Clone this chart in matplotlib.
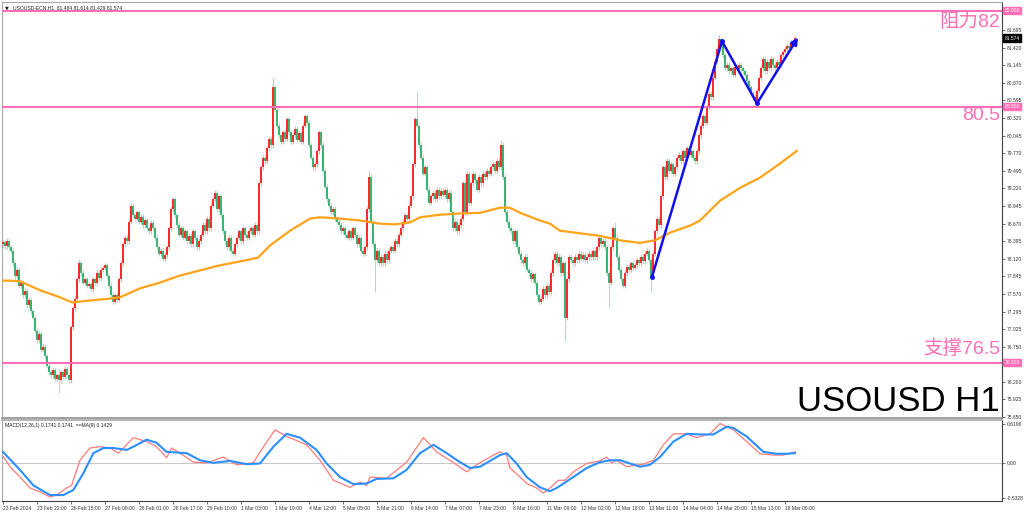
import matplotlib
matplotlib.use('agg')
import matplotlib.pyplot as plt
import numpy as np

# ---- data (H1 bars, one per index) ----
first_open = 78.35
closes = [
    78.38, 78.32, 78.40, 78.30, 78.25,
    78.05, 77.85, 77.95, 77.70,
    77.75, 77.55, 77.62, 77.40, 77.48, 77.30, 77.20,
    77.00, 76.85, 76.95, 76.70, 76.75, 76.60,
    76.45, 76.35, 76.30, 76.38, 76.25, 76.30, 76.22,
    76.35, 76.28, 76.40, 76.30, 76.22,
    77.05, 77.35, 77.50,
    77.80, 78.05, 77.90,
    77.75, 77.80, 77.70, 77.72, 77.65, 77.80, 77.75, 77.90, 77.82, 77.95, 77.98,
    78.02, 77.85, 77.70, 77.55, 77.45, 77.55, 77.48,
    77.80, 78.05, 78.35, 78.45, 78.40, 78.70, 78.95,
    78.80, 78.75, 78.85, 78.70, 78.78, 78.65, 78.72, 78.60, 78.55, 78.68, 78.60, 78.45, 78.30,
    78.20, 78.25, 78.12, 78.18, 78.30, 78.60,
    78.90, 79.05, 78.80,
    78.65, 78.50, 78.60, 78.45, 78.55,
    78.40, 78.48, 78.35, 78.55, 78.45, 78.30, 78.40, 78.50, 78.65, 78.55,
    78.75, 78.60, 78.95, 79.05, 79.15,
    78.90, 79.10, 78.80, 78.55,
    78.40, 78.30, 78.45, 78.25, 78.20, 78.35,
    78.45, 78.55, 78.40, 78.60, 78.50,
    78.45, 78.55, 78.60, 78.50, 78.65, 78.55,
    79.30, 79.55, 79.70,
    79.65, 79.85, 80.00, 79.90,
    80.80,
    80.45, 80.20, 80.05, 79.95, 80.10,
    80.00, 80.30, 80.10, 79.95,
    80.05, 80.15, 79.98, 80.08, 79.95,
    80.20, 80.35, 80.25, 79.90,
    79.70, 79.55, 79.60,
    79.80, 80.10, 79.90,
    79.50, 79.25, 79.05,
    78.95, 78.85, 78.90, 78.75, 78.70,
    78.65, 78.55, 78.60, 78.50, 78.45, 78.55,
    78.45, 78.60, 78.50, 78.35, 78.45,
    78.25, 78.20, 78.30,
    78.90, 79.40,
    78.70, 78.35, 78.10, 78.25, 78.05,
    78.15, 78.05, 78.20, 78.10, 78.25,
    78.30, 78.25, 78.40, 78.35, 78.50, 78.60,
    78.70, 78.80, 78.75, 78.95, 79.10,
    79.60, 80.30, 80.20,
    79.90, 79.70, 79.45, 79.55,
    79.20, 79.00, 79.10,
    79.15, 79.05, 79.20, 79.10, 79.18, 79.12, 79.20, 79.05, 79.15,
    78.85, 78.60, 78.70,
    78.55, 78.65, 78.75,
    79.30, 78.85, 79.45, 79.00,
    79.30, 79.45, 79.35, 79.20, 79.40,
    79.30, 79.45, 79.40, 79.50, 79.45, 79.55, 79.60, 79.50, 79.65, 79.55,
    79.90, 79.40,
    78.85, 78.70, 78.60, 78.55,
    78.40, 78.55, 78.30, 78.20,
    78.10, 78.05, 78.15, 77.95, 77.90, 77.80, 77.88, 77.75,
    77.55, 77.45, 77.50,
    77.65, 77.55, 77.70, 77.60,
    77.90, 78.10, 78.20, 78.05,
    78.15, 77.90, 78.05,
    77.20,
    77.80, 78.15,
    78.10, 78.05, 78.15, 78.10, 78.20, 78.12, 78.18, 78.10, 78.15,
    78.20, 78.15, 78.25, 78.15, 78.30,
    78.45, 78.35, 78.40, 78.30,
    77.90, 77.75,
    78.30, 78.60, 78.45,
    78.15, 77.95, 77.80, 77.70, 77.90,
    78.00, 77.95, 78.05, 77.98, 78.02, 78.10,
    78.05, 78.15, 78.08,
    78.20, 78.25, 78.10, 77.85,
    78.20, 78.55, 78.75, 78.65,
    79.10, 79.55, 79.40, 79.65,
    79.50, 79.60, 79.45, 79.55, 79.70,
    79.75, 79.65, 79.80, 79.70, 79.85,
    79.75, 79.80, 79.70, 79.65, 79.80,
    80.05, 80.20, 80.35,
    80.25, 80.50, 80.70,
    80.65, 80.95, 81.20,
    81.40, 81.55, 81.50,
    81.30, 81.10, 81.15,
    81.05, 81.10, 81.00, 81.12, 81.08, 81.15, 81.10, 81.05, 81.00,
    80.90, 80.80, 80.70,
    80.65, 80.60, 80.75,
    80.95, 81.10, 81.25,
    81.05, 81.20, 81.10, 81.25, 81.15,
    81.10, 81.20, 81.15, 81.30,
    81.35, 81.40, 81.45, 81.42, 81.50, 81.48, 81.57,
]
# notable wick extremes
spike_highs = {28: 76.40, 38: 78.10, 135: 80.95, 183: 79.50, 207: 80.75,
               249: 79.97, 306: 78.70, 358: 81.62}
spike_lows = {28: 76.03, 186: 77.60, 281: 76.84, 303: 77.36, 324: 77.60, 376: 80.52}

# orange moving average
ma_bars = [0, 3.5, 8.5, 18.5, 28.5, 34.5, 43.5, 53.5, 58.5, 68.5, 78.5, 88.5, 98.5,
           108.5, 118.5, 127.5, 133.5, 143.5, 153.5, 158.5, 168.5, 178.5, 188.5, 196,
           203.5, 208.5, 218.5, 228.5, 238.5, 248.5, 253.5, 258.5, 268.5, 273.5, 278.5,
           288.5, 298.5, 308.5, 318.5, 326, 333.5, 343.5, 348.5, 358.5, 368.5, 378.5,
           388.5, 397]
ma_vals = [77.78, 77.78, 77.77, 77.63, 77.52, 77.44, 77.47, 77.50, 77.52, 77.66, 77.75,
           77.86, 77.94, 78.02, 78.08, 78.14, 78.33, 78.56, 78.75, 78.77, 78.75, 78.72,
           78.67, 78.66, 78.69, 78.77, 78.81, 78.83, 78.84, 78.92, 78.92, 78.84, 78.72,
           78.67, 78.56, 78.52, 78.48, 78.41, 78.37, 78.41, 78.53, 78.64, 78.72, 79.03,
           79.23, 79.39, 79.61, 79.81]

# blue trend arrows (bar, price)
trend_bars = [324.5, 359.5, 377, 397.5]
trend_vals = [77.84, 81.52, 80.55, 81.58]

# MACD main (red) and signal (blue)
macd_bars = [0, 3.5, 8.5, 13.5, 18.5, 23.5, 26.8, 31.8, 34.3, 38.5, 43.5, 48.5, 53.5,
             57.7, 65.2, 71.8, 76.8, 81.8, 84.3, 88.5, 95.2, 101.8, 110.2, 116.8, 125.2,
             130.2, 136, 141.8, 151.8, 158.5, 165.2, 173.5, 178.5, 181.8, 183.5, 191.8,
             201.8, 210.2, 216.8, 226.8, 231.8, 236.8, 245.2, 248.5, 251.8, 253.5, 258.5,
             261.8, 266.8, 270.2, 273.5, 277.7, 281, 285.2, 291.8, 298.5, 301.8, 304.3,
             306.8, 311.8, 320.2, 325.2, 330.2, 335.2, 341.8, 346.8, 353.5, 358.5, 365.2,
             371.8, 378.5, 385.2, 390.2, 396]
macd_vals = [0.11, -0.05, -0.21, -0.38, -0.44, -0.52, -0.49, -0.38, -0.34, 0.05, 0.24,
             0.26, 0.24, 0.16, 0.40, 0.34, 0.26, 0.09, 0.24, 0.16, 0.02, 0.01, 0.10, -0.02,
             0.01, 0.26, 0.52, 0.42, 0.29, 0.05, -0.26, -0.37, -0.29, -0.34, -0.21, -0.23,
             0.02, 0.40, 0.18, -0.02, -0.13, -0.02, 0.13, 0.18, 0.13, -0.07, -0.21, -0.31,
             -0.38, -0.46, -0.38, -0.26, -0.26, -0.13, 0.00, 0.04, 0.10, 0.01, 0.05, -0.05,
             -0.01, 0.05, 0.29, 0.46, 0.46, 0.40, 0.46, 0.62, 0.52, 0.34, 0.15, 0.13, 0.13,
             0.18]
sig_bars = [0, 8.5, 15.2, 23.5, 30.2, 35.2, 40.2, 45.2, 50.2, 55.2, 61.8, 65.2, 71.8,
            76.8, 81.8, 91.8, 98.5, 105.2, 113.5, 121.8, 128.5, 135.2, 141.8, 148.5,
            156.8, 161.8, 168.5, 175.2, 181.8, 186.8, 195.2, 201.8, 208.5, 215.2, 221.8,
            228.5, 233.5, 238.5, 245.2, 248.5, 251.8, 256.8, 261.8, 268.5, 273.5, 276.8,
            285.2, 291.8, 298.5, 303.5, 308.5, 318.5, 323.5, 328.5, 335.2, 341.8, 348.5,
            355.2, 361.8, 365.2, 371.8, 380.2, 386.8, 391.8, 396]
sig_vals = [0.18, -0.10, -0.34, -0.49, -0.49, -0.41, -0.15, 0.16, 0.24, 0.24, 0.21, 0.26,
            0.37, 0.32, 0.18, 0.16, 0.05, 0.01, 0.04, -0.01, 0.00, 0.26, 0.46, 0.40, 0.21,
            0.00, -0.21, -0.32, -0.31, -0.24, -0.23, -0.10, 0.16, 0.29, 0.16, 0.02, -0.07,
            -0.05, 0.07, 0.13, 0.16, 0.00, -0.21, -0.37, -0.43, -0.38, -0.21, -0.07, 0.02,
            0.05, 0.05, -0.05, -0.02, 0.10, 0.34, 0.46, 0.45, 0.45, 0.57, 0.55, 0.42, 0.18,
            0.15, 0.15, 0.16]

price_ticks = [81.695, 81.420, 81.145, 80.870, 80.595, 80.320, 80.045, 79.770, 79.495,
               79.220, 78.945, 78.670, 78.395, 78.120, 77.845, 77.570, 77.295, 77.025,
               76.750, 76.200, 75.925, 75.650]
level_lines = [82.0, 80.5, 76.5]
time_labels = ['23 Feb 2024', '23 Feb 22:00', '26 Feb 15:00', '27 Feb 08:00',
               '28 Feb 01:00', '28 Feb 17:00', '29 Feb 10:00', '1 Mar 03:00',
               '1 Mar 19:00', '4 Mar 12:00', '5 Mar 05:00', '5 Mar 21:00',
               '6 Mar 14:00', '7 Mar 07:00', '7 Mar 23:00', '8 Mar 16:00',
               '11 Mar 09:00', '12 Mar 02:00', '12 Mar 18:00', '13 Mar 11:00',
               '14 Mar 04:00', '14 Mar 20:00', '15 Mar 13:00', '18 Mar 06:00']
bars_per_label = 17

# ---- figure ----
W, H = 1024, 514
fig = plt.figure(figsize=(W / 100, H / 100), dpi=100)
fig.patch.set_facecolor('white')
small = dict(family='Liberation Sans', size=3.6)

def px_box(x0, y0, x1, y1):
    return [x0 / W, 1 - y1 / H, (x1 - x0) / W, (y1 - y0) / H]

ax = fig.add_axes(px_box(2, 2, 1002, 418))
mx = fig.add_axes(px_box(2, 420, 1002, 500.5), sharex=ax)

pink = '#ff6fb5'
up_col, dn_col = '#ff2a2a', '#3bb372'
up_wick, dn_wick = '#ff9999', '#9dd9b3'

closes_a = np.array(closes)
opens_a = np.concatenate([[first_open], closes_a[:-1]])
idx = np.arange(len(closes_a))
hi = np.maximum(opens_a, closes_a) + 0.04
lo = np.minimum(opens_a, closes_a) - 0.04
for k, v in spike_highs.items():
    hi[k] = v
for k, v in spike_lows.items():
    lo[k] = v
up = closes_a >= opens_a

ax.vlines(idx[up], lo[up], hi[up], color=up_wick, lw=0.6, zorder=2)
ax.vlines(idx[~up], lo[~up], hi[~up], color=dn_wick, lw=0.6, zorder=2)
body_h = np.maximum(np.abs(closes_a - opens_a), 0.012)
body_b = np.minimum(opens_a, closes_a)
ax.bar(idx[up], body_h[up], bottom=body_b[up], width=0.75, color=up_col, lw=0, zorder=3)
ax.bar(idx[~up], body_h[~up], bottom=body_b[~up], width=0.75, color=dn_col, lw=0, zorder=3)

ax.plot(ma_bars, ma_vals, color='#ffa31a', lw=1.6, zorder=4, solid_capstyle='round')

for lv in level_lines:
    ax.axhline(lv, color=pink, lw=1.5, zorder=5)

ax.plot(trend_bars[:-1], trend_vals[:-1], color='#1010ee', lw=1.8, zorder=6)
ax.plot(trend_bars[:-1], trend_vals[:-1], 'o', color='#1010ee', ms=2.5, zorder=6)
ax.annotate('', xy=(trend_bars[-1], trend_vals[-1]), xytext=(trend_bars[-2], trend_vals[-2]),
            arrowprops=dict(arrowstyle='-|>', color='#1010ee', lw=1.8,
                            mutation_scale=10, shrinkA=0, shrinkB=0), zorder=6)

ax.set_xlim(-0.5, 499.5)
ax.set_ylim(75.634, 82.134)

# right price scale
ax.yaxis.tick_right()
ax.set_yticks(price_ticks)
ax.set_yticklabels(['%.3f' % v for v in price_ticks], **small)
ax.tick_params(axis='y', direction='out', length=2, width=0.5, pad=1.5,
               colors='#333333')
ax.tick_params(axis='x', bottom=False, labelbottom=False)
for s in ['left', 'top']:
    ax.spines[s].set_color('#a8a8a8')
ax.spines['right'].set_color('#404040')
ax.spines['right'].set_linewidth(0.8)
ax.spines['bottom'].set_color('#909090')
ax.spines['bottom'].set_linewidth(1.2)

ytr = ax.get_yaxis_transform()
for lv in level_lines:
    ax.text(1.0025, lv, '%.3f' % lv, transform=ytr, color='white',
            va='center', ha='left', zorder=8, **small,
            bbox=dict(boxstyle='square,pad=0.25', fc=pink, ec=pink))
ax.text(1.0025, closes[-1], '81.574', transform=ytr, color='white',
        va='center', ha='left', zorder=8, **small,
        bbox=dict(boxstyle='square,pad=0.25', fc='black', ec='black'))

# header and annotation texts
ax.text(0.003, 0.993, '\u25bc', transform=ax.transAxes, fontsize=3.6,
        color='#222222', va='top', ha='left')
ax.text(0.011, 0.993, 'USOUSD-ECN,H1  81.484 81.614 81.429 81.574',
        transform=ax.transAxes, color='#222222', va='top', ha='left', **small)
fam = ['Liberation Sans', 'Noto Sans CJK SC']
ax.text(0.998, 81.83, '阻力82', color=pink, fontsize=14, family=fam,
        ha='right', va='center', zorder=7, transform=ytr)
ax.text(0.998, 80.36, '80.5', color=pink, fontsize=14, family=fam,
        ha='right', va='center', zorder=7, transform=ytr)
ax.text(0.998, 76.71, '支撑76.5', color=pink, fontsize=14, family=fam,
        ha='right', va='center', zorder=7, transform=ytr)
ax.text(0.998, 75.89, 'USOUSD H1', color='black', fontsize=25, family=fam,
        ha='right', va='center', zorder=7, transform=ytr)

# ---- MACD panel ----
mx.axhline(0, color='#c8c8c8', lw=0.8, zorder=1)
mx.plot(macd_bars, macd_vals, color='#ff7b7b', lw=0.9, zorder=2)
mx.plot(sig_bars, sig_vals, color='#2b8fff', lw=1.5, zorder=3)
mx.set_ylim(-0.574, 0.674)
mx.yaxis.tick_right()
mx.set_yticks([0.6196, 0.0, -0.5328])
mx.set_yticklabels(['0.6196', '0.00', '-0.5328'], **small)
mx.tick_params(axis='y', direction='out', length=2, width=0.5, pad=1.5,
               colors='#333333')
tick_pos = [bars_per_label * k for k in range(len(time_labels))]
mx.set_xticks(tick_pos)
mx.set_xticklabels(time_labels, ha='left', **small)
mx.tick_params(axis='x', direction='out', length=2, width=0.5, pad=2,
               colors='#333333')
for s in ['left', 'top']:
    mx.spines[s].set_color('#a8a8a8')
mx.spines['top'].set_linewidth(1.2)
mx.spines['right'].set_color('#404040')
mx.spines['right'].set_linewidth(0.8)
mx.spines['bottom'].set_color('#404040')
mx.spines['bottom'].set_linewidth(0.8)
mx.text(0.003, 0.96, 'MACD(12,26,1) 0.1741 0.1741  ==MA(9) 0.1429',
        transform=mx.transAxes, color='#222222', va='top', ha='left', **small)

fig.savefig('out.png', dpi=100)
plt.close(fig)
